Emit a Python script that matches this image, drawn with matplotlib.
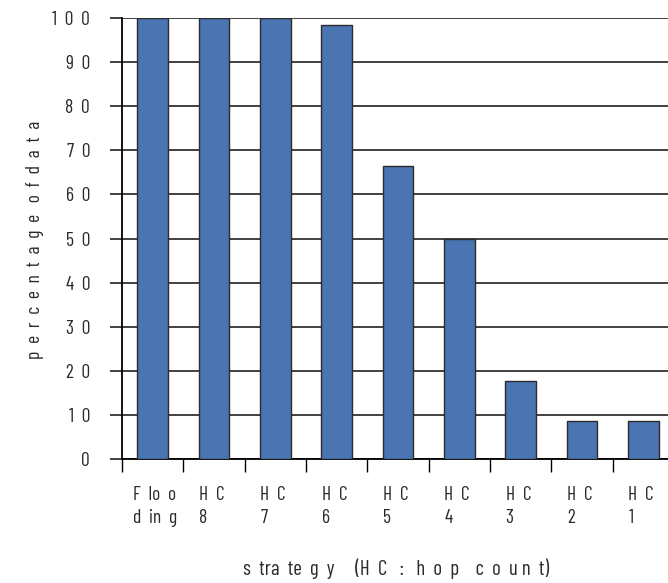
import matplotlib.pyplot as plt
import matplotlib.transforms as mtransforms

# data
strategies = ['F  lo  o\nd  in  g', 'H  C\n8', 'H  C\n7', 'H  C\n6', 'H  C\n5',
              'H  C\n4', 'H  C\n3', 'H  C\n2', 'H  C\n1']
percentages = [100, 100, 100, 98.3, 66.5, 50, 17.8, 8.6, 8.6]
y_ticks = [0, 10, 20, 30, 40, 50, 60, 70, 80, 90, 100]
y_tick_labels = ['  '.join(str(v)) for v in y_ticks]

plt.rcParams['font.family'] = ['Barlow Condensed', 'Archivo Narrow', 'Liberation Sans', 'DejaVu Sans']

fig = plt.figure(figsize=(6.68, 5.83), dpi=100)
ax = fig.add_axes([122 / 668, 124 / 583, 552 / 668, 441 / 583])

x = list(range(len(strategies)))
ax.set_axisbelow(True)
ax.yaxis.grid(True, color='#333333', linewidth=1.3)
ax.bar(x, percentages, width=0.5, color='#4a75b2', edgecolor='#2b2b2b', linewidth=1, zorder=3)

ax.set_xlim(-0.5, len(strategies) - 0.5)
ax.set_ylim(0, 100)

ax.set_yticks(y_ticks)
ax.set_yticklabels(y_tick_labels, fontsize=14, color='#2a2a2a')
ax.tick_params(axis='y', length=9, width=1.3, color='#333333', pad=14)

ax.set_xticks([i - 0.5 for i in x])
ax.set_xticklabels([])
ax.tick_params(axis='x', length=9.5, width=1, color='black')

offsets = [-20] + [-15] * (len(strategies) - 1)
for i, (label, off) in enumerate(zip(strategies, offsets)):
    trans = ax.get_xaxis_transform() + mtransforms.ScaledTranslation(off / 100, -27 / 100, fig.dpi_scale_trans)
    ax.text(i, 0, label, transform=trans, ha='left', va='top', fontsize=14,
            linespacing=1.35, color='#2a2a2a')

for side in ['top', 'right']:
    ax.spines[side].set_visible(False)
ax.spines['left'].set_linewidth(1.3)
ax.spines['bottom'].set_linewidth(1.3)

fig.text(396 / 668, 1 - 569 / 583, 's  tra  te  g  y     (H  C   :   h  o  p    c  o  u n  t)',
         ha='center', va='center', fontsize=15, color='#2a2a2a')
fig.text(35 / 668, 1 - 240 / 583, 'p  e  r  c  e  n  t  a  g  e   o  f  d  a  t  a',
         ha='center', va='center', rotation=90, fontsize=14, color='#2a2a2a')

fig.savefig('out.png', dpi=100)
